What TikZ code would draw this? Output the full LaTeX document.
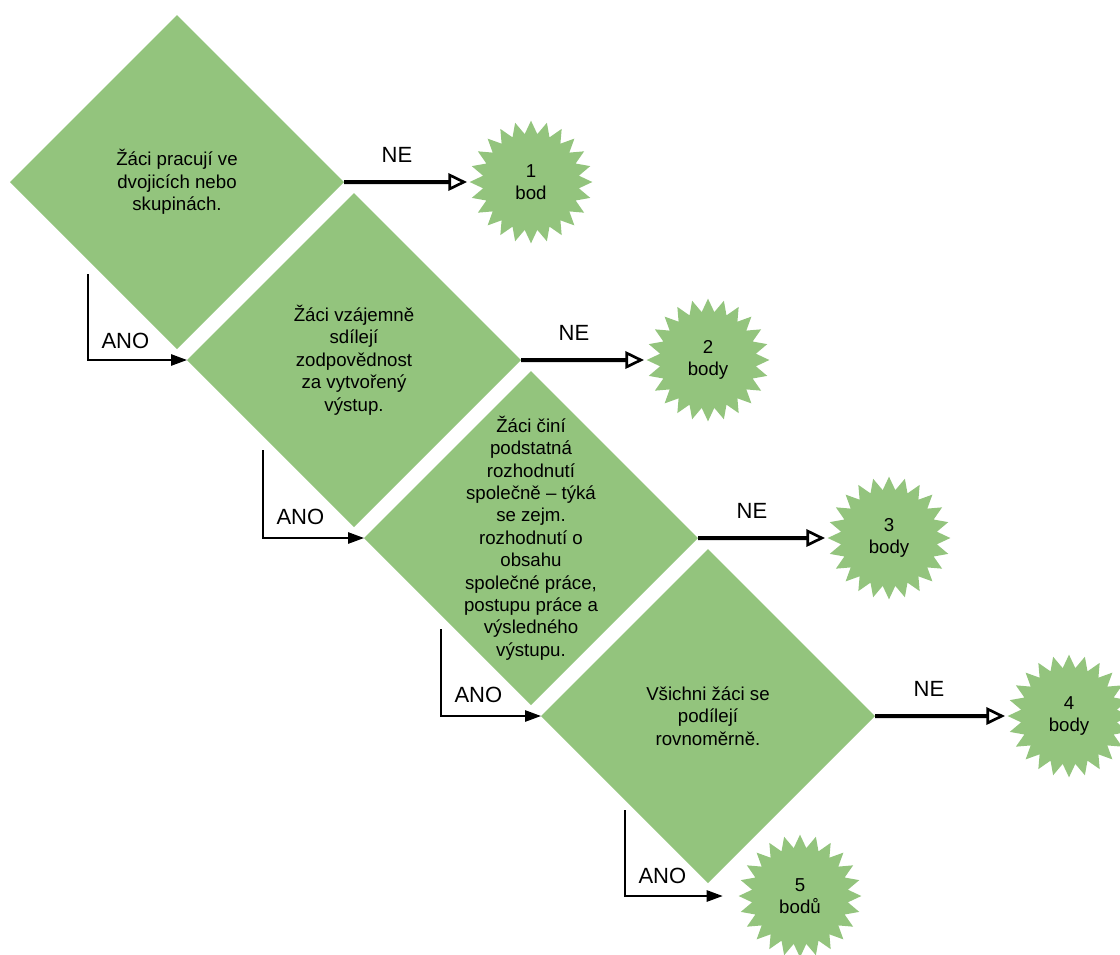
\documentclass[tikz,border=0pt]{standalone}
\usepackage{fontspec}
\setmainfont{Liberation Sans}
\usetikzlibrary{shapes.geometric,arrows.meta}
\definecolor{qgreen}{RGB}{147,196,125}

\tikzset{every picture/.style={line width=0.75pt}}
\tikzset{
  question/.style={shape=diamond, aspect=1, fill=qgreen, minimum width=250.5pt, minimum height=250.5pt, inner sep=0pt, outer sep=0pt},
  qtext/.style={align=center, inner sep=0pt, font=\fontsize{14}{16.8}\selectfont},
  score/.style={shape=star, star points=24, star point ratio=1.27, fill=qgreen, minimum size=92pt, inner sep=0pt, outer sep=0pt, align=center, font=\fontsize{14}{16.5}\selectfont},
  nearrow/.style={line width=3pt, -{Triangle[open, length=14pt, width=13pt, line width=2pt]}, shorten >=2pt},
  anoarrow/.style={line width=1.3pt, -{Triangle[length=12pt, width=8.5pt]}},
  lbl/.style={inner sep=0pt, font=\fontsize{16.5}{19}\selectfont}
}

\begin{document}
\begin{tikzpicture}[x=0.75pt,y=0.75pt,yscale=-1,xscale=1]
\useasboundingbox (0,0) rectangle (1120,954);

% Diamonds
\node[question] (q1) at (177,182) {};
\node[question] (q2) at (354,360) {};
\node[question] (q3) at (531,538) {};
\node[question] (q4) at (708,716) {};

% Text Node
\node[qtext] (q1t) at (q1) {Žáci pracují ve\\dvojicích nebo\\skupinách.};
% Text Node
\node[qtext] (q2t) at (q2) {Žáci vzájemně\\sdílejí\\zodpovědnost\\za vytvořený\\výstup.};
% Text Node
\node[qtext] (q3t) at (q3) {Žáci činí\\podstatná\\rozhodnutí\\společně – týká\\se zejm.\\rozhodnutí o\\obsahu\\společné práce,\\postupu práce a\\výsledného\\výstupu.};
% Text Node
\node[qtext] (q4t) at (q4) {Všichni žáci se\\podílejí\\rovnoměrně.};

% Stars
\node[score] (s1) at (531,182) {1\\bod};
\node[score] (s2) at (708,360) {2\\body};
\node[score] (s3) at (889,538) {3\\body};
\node[score] (s4) at (1069,716) {4\\body};
\node[score] (s5) at (800,896) {5\\bodů};

% ANO starts
\coordinate (a1) at (88,274);
\coordinate (a2) at (263,450);
\coordinate (a3) at (441,629);
\coordinate (a4) at (625,810);

%Straight Lines
\draw[nearrow] (q1.east) -- (s1.180);
\draw[nearrow] (q2.east) -- (s2.180);
\draw[nearrow] (q3.east) -- (s3.180);
\draw[nearrow] (q4.east) -- (s4.180);

%Straight Lines
\draw[anoarrow] (a1) |- (q2.west);
\draw[anoarrow] (a2) |- (q3.west);
\draw[anoarrow] (a3) |- (q4.west);
\draw[anoarrow, shorten >=12pt] (a4) |- (s5.180);

% Text Node
\node[lbl, anchor=base] (ne1) at (397,162) {NE};
\node[lbl, anchor=base] (ne2) at (574,340) {NE};
\node[lbl, anchor=base] (ne3) at (752,518) {NE};
\node[lbl, anchor=base] (ne4) at (929,696) {NE};
% Text Node
\node[lbl, anchor=base west] (ano1) at (101,348) {ANO};
\node[lbl, anchor=base west] (ano2) at (276,524) {ANO};
\node[lbl, anchor=base west] (ano3) at (454,702) {ANO};
\node[lbl, anchor=base west] (ano4) at (638,883) {ANO};

\end{tikzpicture}
\end{document}
